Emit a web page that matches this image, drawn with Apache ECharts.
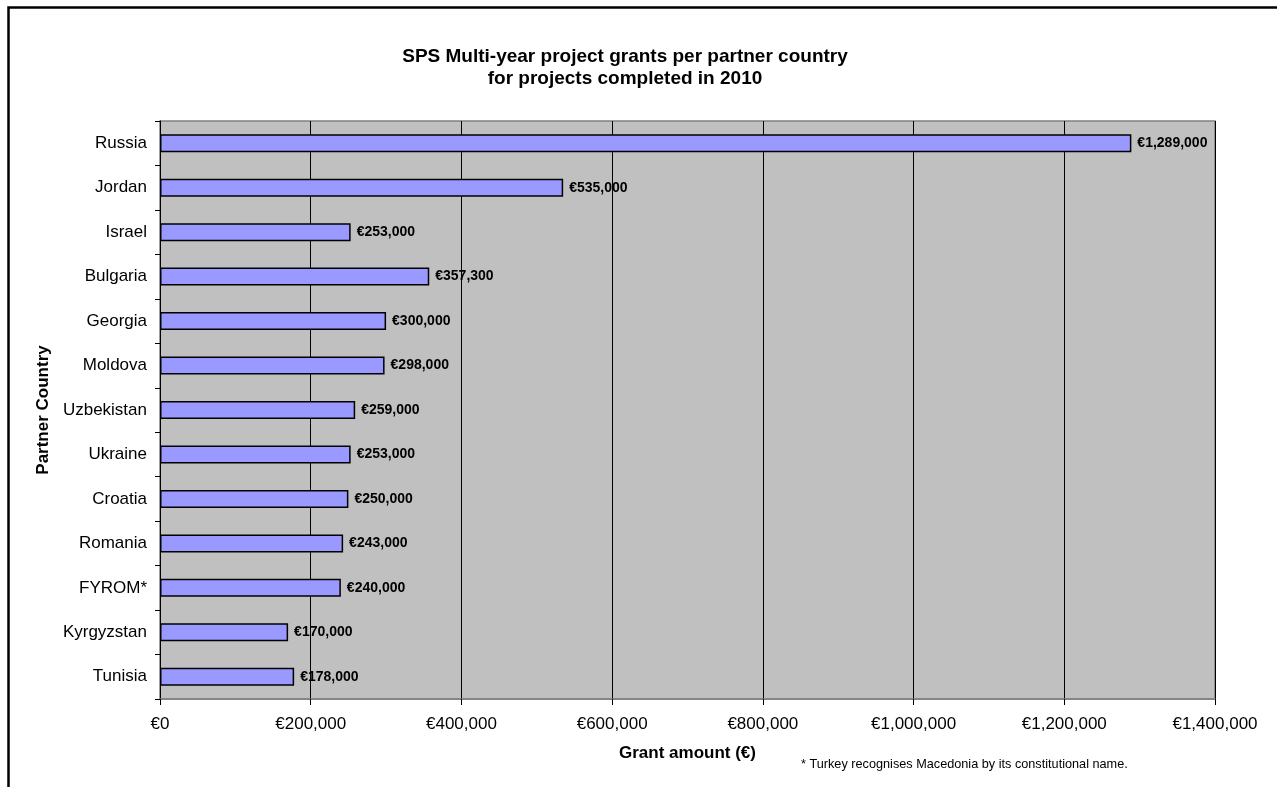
<!DOCTYPE html>
<html>
<head>
<meta charset="utf-8">
<script src="https://cdn.jsdelivr.net/npm/echarts@6/dist/echarts.min.js"></script>
<style>
html,body{margin:0;padding:0;background:#fff;}
#c{width:1277px;height:787px;}
</style>
</head>
<body>
<div id="c"></div>
<script>
const categories = ['Russia','Jordan','Israel','Bulgaria','Georgia','Moldova','Uzbekistan','Ukraine','Croatia','Romania','FYROM*','Kyrgyzstan','Tunisia'];
const grants = [1289000,535000,253000,357300,300000,298000,259000,253000,250000,243000,240000,170000,178000];
const xTicks = [0,200000,400000,600000,800000,1000000,1200000,1400000];

const FONT = '"Liberation Sans", Arial, sans-serif';
function euro(v){ return '€' + Number(v).toLocaleString('en-US'); }

const chart = echarts.init(document.getElementById('c'), null, {renderer:'canvas'});
chart.setOption({
  animation:false,
  textStyle:{fontFamily:FONT},
  title:{
    text:'SPS Multi-year project grants per partner country\nfor projects completed in 2010',
    left:620, textAlign:'center', top:41,
    textStyle:{fontFamily:FONT,fontSize:19,fontWeight:'bold',color:'#000',lineHeight:22}
  },
  grid:{left:160,right:62,top:121,bottom:88,show:true,backgroundColor:'#C0C0C0',borderColor:'#808080',borderWidth:1.5},
  xAxis:{
    type:'value', min:xTicks[0], max:xTicks[xTicks.length-1], interval:200000,
    name:'Grant amount (€)', nameLocation:'middle', nameGap:46,
    nameTextStyle:{fontFamily:FONT,fontSize:17,fontWeight:'bold',color:'#000'},
    axisLine:{show:true,lineStyle:{color:'#808080',width:1.5}},
    axisTick:{show:true,length:6,lineStyle:{color:'#000'}},
    axisLabel:{fontFamily:FONT,fontSize:17,color:'#000',margin:17,formatter:euro},
    splitLine:{show:true,lineStyle:{color:'#000',width:1}}
  },
  yAxis:{
    type:'category', data:categories, inverse:true,
    name:'Partner Country', nameLocation:'middle', nameGap:104, nameRotate:90,
    nameTextStyle:{fontFamily:FONT,fontSize:17,fontWeight:'bold',color:'#000'},
    axisLine:{show:true,lineStyle:{color:'#000',width:1}},
    axisTick:{show:true,length:5,lineStyle:{color:'#000'}},
    axisLabel:{fontFamily:FONT,fontSize:17,color:'#000',margin:13},
    splitLine:{show:false}
  },
  series:[{
    type:'bar', data:grants, barWidth:18,
    itemStyle:{color:'#9999FF',borderColor:'#000',borderWidth:1.5},
    label:{show:true,position:'right',distance:6,formatter:p=>euro(p.value),
      fontFamily:FONT,fontSize:14,fontWeight:'bold',color:'#000'}
  }],
  graphic:[
    {type:'rect',left:6,top:5,shape:{width:1400,height:900},style:{fill:'none',stroke:'#000',lineWidth:2.5},silent:true,z:-10},
    {type:'text',left:801,top:758,style:{text:'* Turkey recognises Macedonia by its constitutional name.',font:'12.7px "Liberation Sans", Arial, sans-serif',fill:'#000'}}
  ]
});
</script>
</body>
</html>
